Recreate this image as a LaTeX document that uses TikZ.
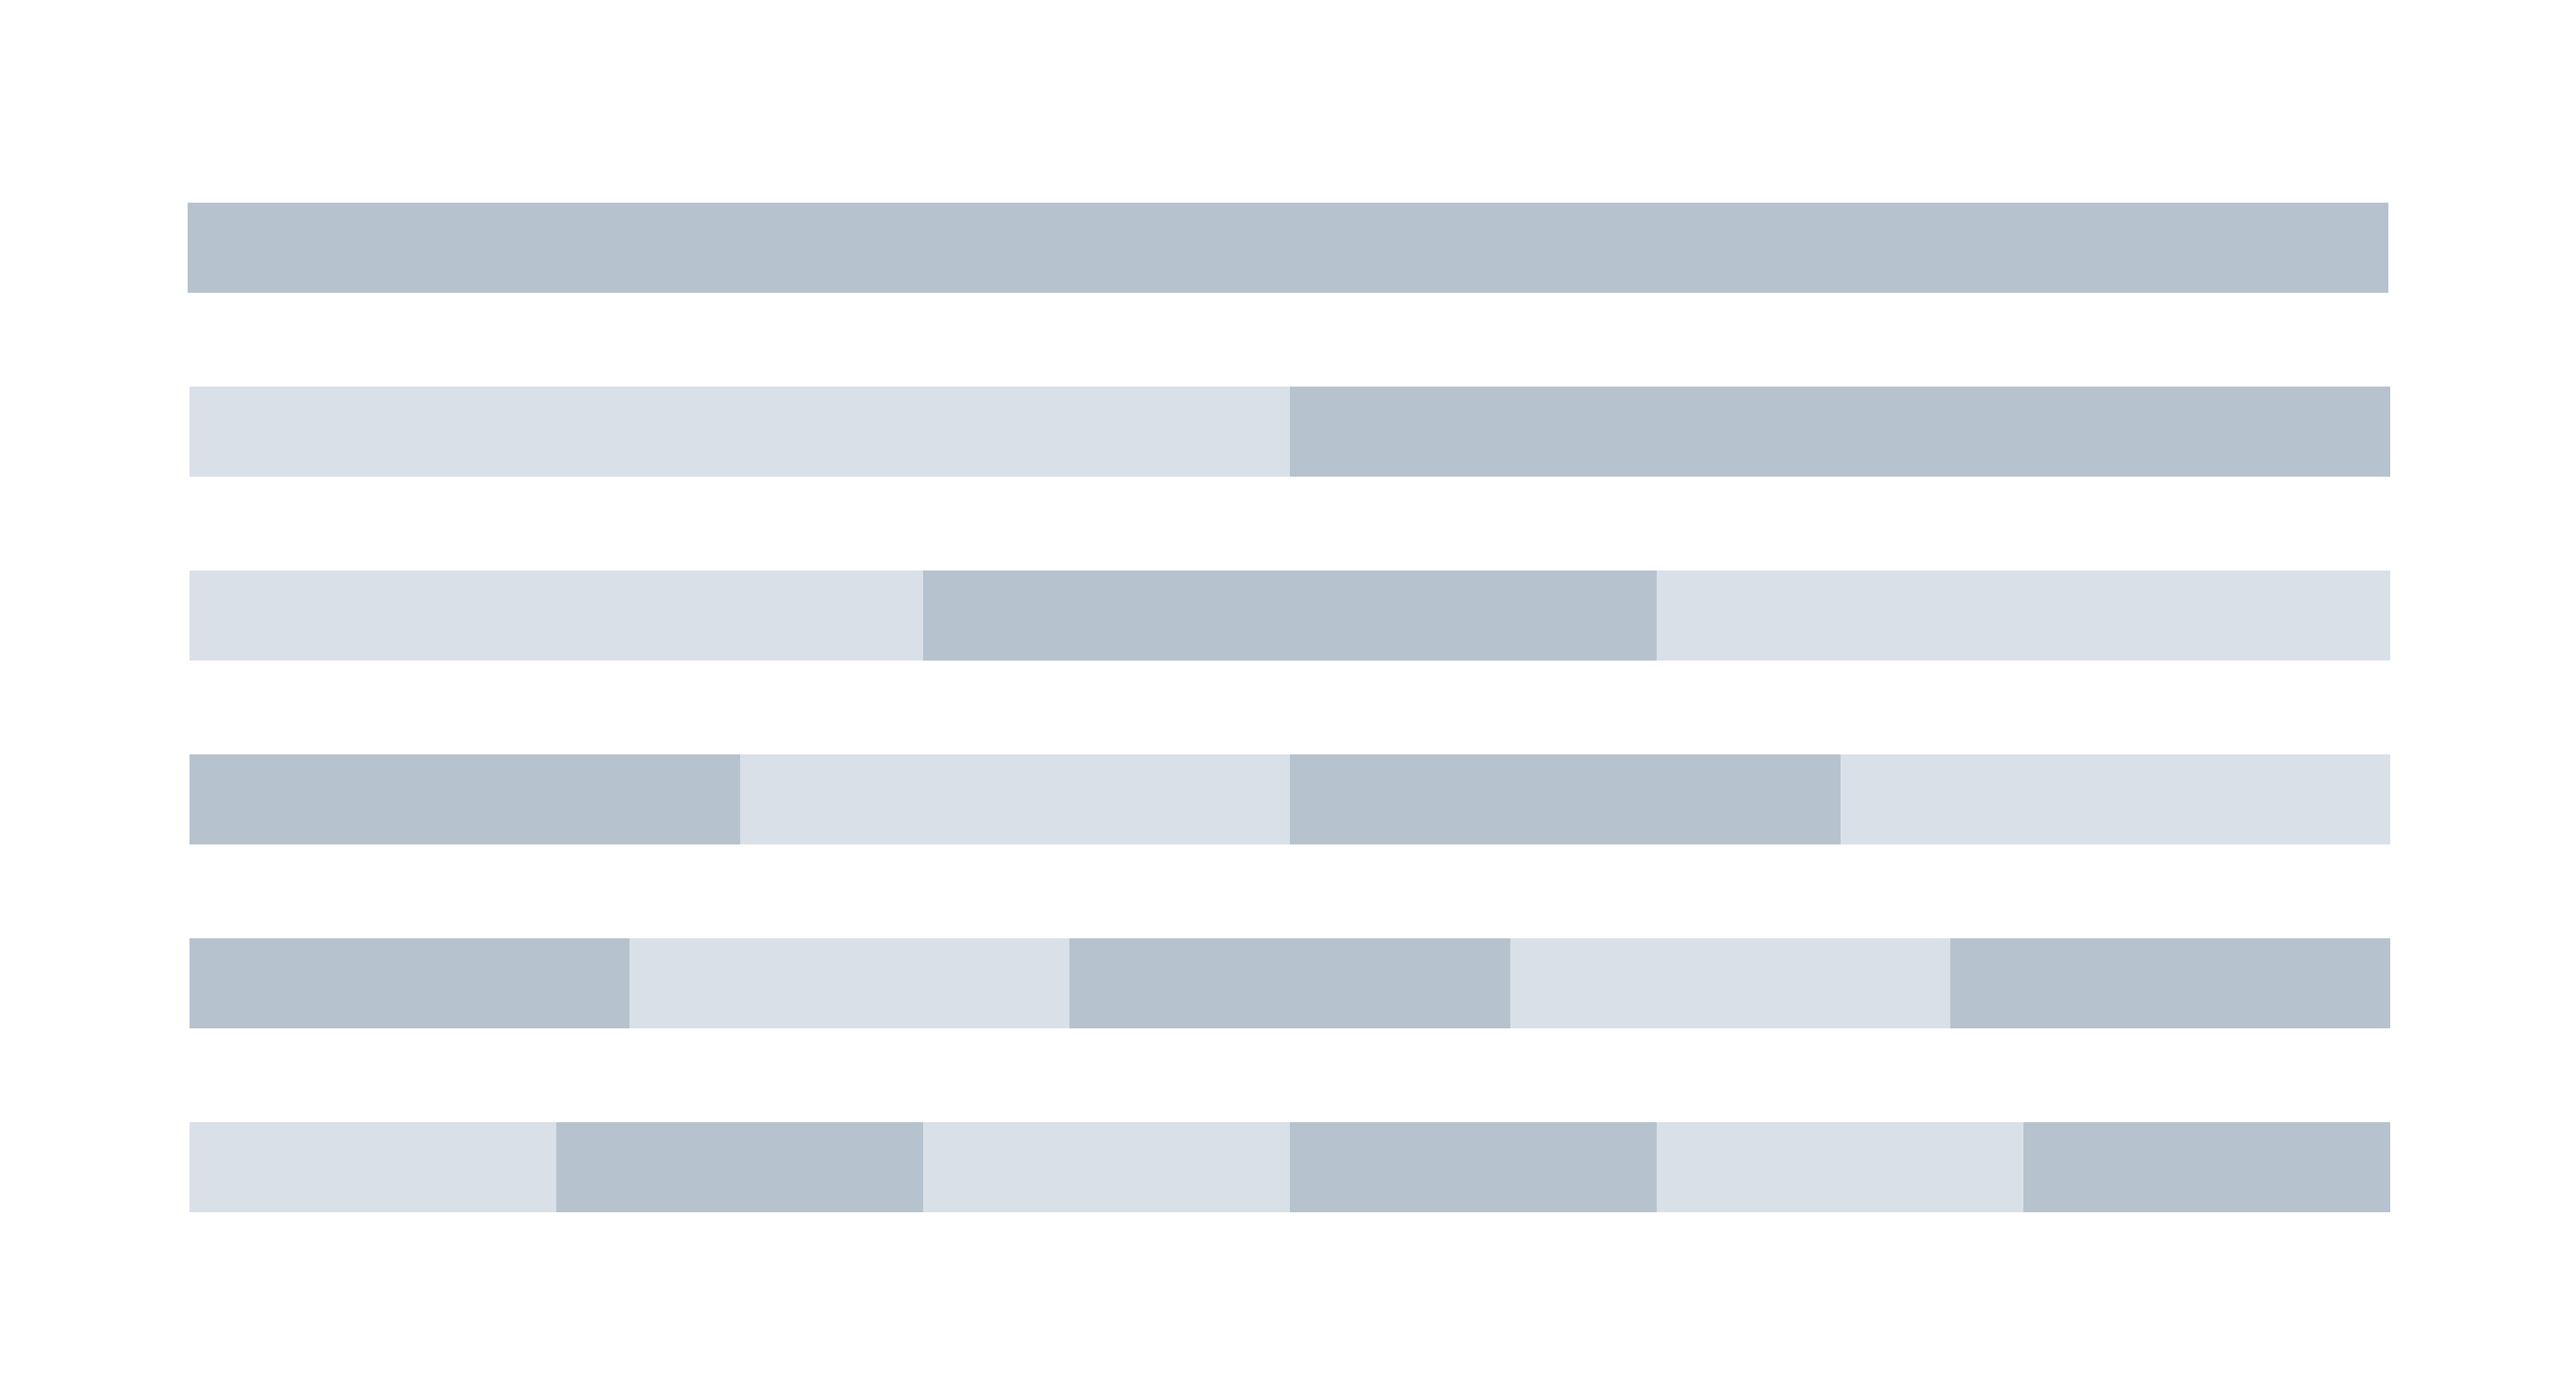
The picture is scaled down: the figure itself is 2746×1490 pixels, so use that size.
\documentclass[tikz,border=0pt]{standalone}
\definecolor{barDark}{RGB}{182,194,206}
\definecolor{barLight}{RGB}{218,224,232}
\tikzset{
  darkseg/.style={fill=barDark, draw=none},
  lightseg/.style={fill=barLight, draw=none}
}
\begin{document}
\begin{tikzpicture}[x=0.01cm,y=-0.01cm]
  \fill[white] (0,0) rectangle (2746,1490);
  \useasboundingbox (0,0) rectangle (2746,1490);
  % Row 1
  \fill[darkseg] (200,216) rectangle (2546,312);
  % Rows 2-6: n segments, alternating
  \foreach \n/\top/\startdark in {2/412/0, 3/608/0, 4/804/1, 5/1000/1, 6/1196/0} {
    \pgfmathsetmacro{\w}{2346/\n}
    \foreach \i in {1,...,\n} {
      \pgfmathsetmacro{\xa}{202+(\i-1)*\w}
      \pgfmathsetmacro{\xb}{202+\i*\w}
      \pgfmathtruncatemacro{\isdark}{mod(\i+\startdark,2)==0 ? 1 : 0}
      \ifnum\isdark=1
        \fill[darkseg] (\xa,\top) rectangle (\xb,\top+96);
      \else
        \fill[lightseg] (\xa,\top) rectangle (\xb,\top+96);
      \fi
    }
  }
\end{tikzpicture}
\end{document}
